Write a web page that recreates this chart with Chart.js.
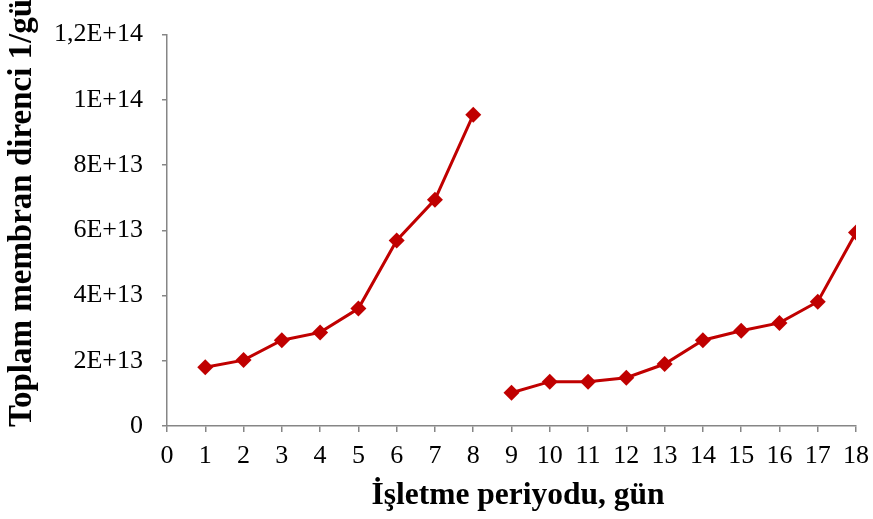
<!DOCTYPE html>
<html>
<head>
<meta charset="utf-8">
<script src="https://cdn.jsdelivr.net/npm/chart.js@4/dist/chart.umd.min.js"></script>
<style>
  html, body { margin: 0; padding: 0; background: #ffffff; }
  #wrap { width: 873px; height: 519px; }
</style>
</head>
<body>
<div id="wrap"><canvas id="c" width="873" height="519"></canvas></div>
<script>
// Operating days, two filtration runs
const daysRun1 = [1, 2, 3, 4, 5, 6, 7, 8];
const resistanceRun1 = [1.80e13, 2.02e13, 2.63e13, 2.87e13, 3.60e13, 5.69e13, 6.94e13, 9.54e13];

const daysRun2 = [9, 10, 11, 12, 13, 14, 15, 16, 17, 18];
const resistanceRun2 = [1.02e13, 1.36e13, 1.36e13, 1.48e13, 1.90e13, 2.63e13, 2.92e13, 3.16e13, 3.81e13, 5.93e13];

// Axis tick labels
const yTickLabels = ['0', '2E+13', '4E+13', '6E+13', '8E+13', '1E+14', '1,2E+14'];
const yStep = 2e13;

const xTitle = 'İşletme periyodu, gün';
const yTitle = 'Toplam membran direnci 1/gün';

const lineColor = '#C00000';
const axisColor = '#868686';
const serif = "'Liberation Serif', 'Times New Roman', serif";

function toPoints(xs, ys) {
  return xs.map((x, i) => ({ x: x, y: ys[i] }));
}

function seriesStyle() {
  return {
    borderColor: lineColor,
    backgroundColor: lineColor,
    borderWidth: 3,
    pointStyle: 'rectRot',
    pointRadius: 8,
    pointHoverRadius: 8,
    pointBorderWidth: 0,
    tension: 0,
    fill: false
  };
}

// Axis titles: the vertical one runs up the left edge, the horizontal one sits under the tick labels
const axisTitles = {
  id: 'axisTitles',
  afterDraw(chart) {
    const ctx = chart.ctx;
    ctx.save();
    ctx.fillStyle = '#000000';

    ctx.font = 'bold 31.5px ' + serif;
    ctx.textAlign = 'center';
    ctx.textBaseline = 'alphabetic';
    ctx.fillText(xTitle, 518, 504);

    ctx.translate(22.5, 427);
    ctx.rotate(-Math.PI / 2);
    ctx.font = 'bold 33px ' + serif;
    ctx.textAlign = 'left';
    ctx.textBaseline = 'middle';
    ctx.fillText(yTitle, 0, 0);
    ctx.restore();
  }
};

const whiteBg = {
  id: 'whiteBg',
  beforeDraw(chart) {
    const ctx = chart.ctx;
    ctx.save();
    ctx.fillStyle = '#ffffff';
    ctx.fillRect(0, 0, chart.width, chart.height);
    ctx.restore();
  }
};

new Chart(document.getElementById('c'), {
  type: 'line',
  data: {
    datasets: [
      Object.assign({ label: 'run1', data: toPoints(daysRun1, resistanceRun1) }, seriesStyle()),
      Object.assign({ label: 'run2', data: toPoints(daysRun2, resistanceRun2) }, seriesStyle())
    ]
  },
  options: {
    responsive: false,
    devicePixelRatio: 1,
    animation: false,
    layout: { padding: { left: 0, right: 17, top: 34, bottom: 0 } },
    plugins: {
      legend: { display: false },
      tooltip: { enabled: false },
      title: { display: false }
    },
    scales: {
      x: {
        type: 'linear',
        min: 0,
        max: 18,
        afterFit(scale) {
          scale.height = 93;
          scale.paddingLeft = 0;
          scale.paddingRight = 0;
        },
        border: { display: true, color: axisColor, width: 1.5 },
        grid: {
          drawOnChartArea: false,
          drawTicks: true,
          tickLength: 6,
          color: axisColor,
          lineWidth: 1.5
        },
        ticks: {
          stepSize: 1,
          autoSkip: false,
          maxRotation: 0,
          padding: 9,
          color: '#000000',
          font: { family: serif, size: 26 },
          callback: (v) => String(v)
        }
      },
      y: {
        type: 'linear',
        min: 0,
        max: 1.2e14,
        afterFit(scale) { scale.width = 167; },
        border: { display: true, color: axisColor, width: 1.5 },
        grid: {
          drawOnChartArea: false,
          drawTicks: true,
          tickLength: 5,
          color: axisColor,
          lineWidth: 1.5
        },
        ticks: {
          stepSize: yStep,
          padding: 19,
          color: '#000000',
          font: { family: serif, size: 26 },
          callback: (v) => {
            const i = Math.round(v / yStep);
            return yTickLabels[i] !== undefined ? yTickLabels[i] : '';
          }
        }
      }
    }
  },
  plugins: [whiteBg, axisTitles]
});
</script>
</body>
</html>
